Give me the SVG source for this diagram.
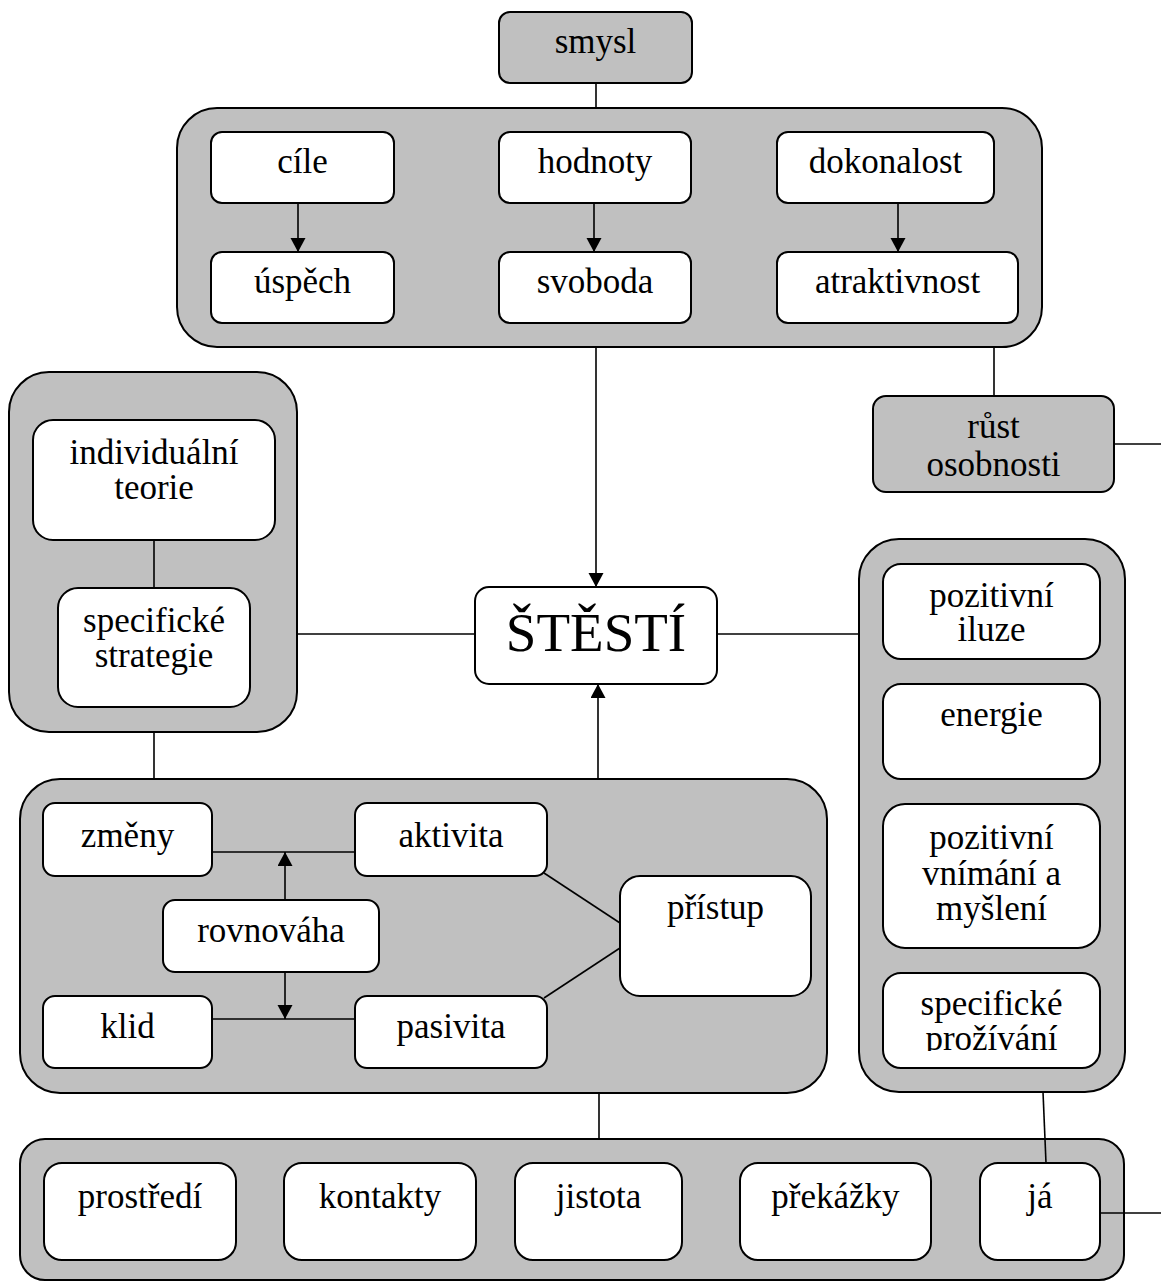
<svg xmlns="http://www.w3.org/2000/svg" width="1161" height="1282" viewBox="0 0 1161 1282">
<style>
.grp{fill:#c0c0c0;stroke:#000;stroke-width:2}
.box{fill:#fff;stroke:#000;stroke-width:2}
.gbox{fill:#c0c0c0;stroke:#000;stroke-width:2}
text{font-family:"Liberation Serif","Times New Roman",serif;font-size:35px;fill:#000;text-anchor:middle}
.big{font-size:55px}
.ln{stroke:#000;stroke-width:1.6;fill:none}
</style>
<defs>
<marker id="ah" markerUnits="userSpaceOnUse" markerWidth="15" markerHeight="16" refX="14" refY="7.5" orient="auto">
<path d="M0,0 L14,7.5 L0,15 z" fill="#000"/>
</marker>
<clipPath id="clipPro"><rect x="883" y="973" width="217" height="78"/></clipPath>
</defs>
<rect width="1161" height="1282" fill="#fff"/>

<g id="containers">
<rect id="top-group" class="grp" x="177" y="108" width="865" height="239" rx="40"/>
<rect id="left-group" class="grp" x="9" y="372" width="288" height="360" rx="40"/>
<rect id="right-group" class="grp" x="859" y="539" width="266" height="553" rx="40"/>
<rect id="middle-group" class="grp" x="20" y="779" width="807" height="314" rx="40"/>
<rect id="bottom-group" class="grp" x="20" y="1139" width="1104" height="141" rx="25"/>
</g>

<g id="connectors">
<line class="ln" x1="596" y1="83" x2="596" y2="108"/>
<line class="ln" x1="596" y1="347" x2="596" y2="587" marker-end="url(#ah)"/>
<line class="ln" x1="994" y1="347" x2="994" y2="396"/>
<line class="ln" x1="1114" y1="444" x2="1161" y2="444"/>
<line class="ln" x1="297" y1="634" x2="475" y2="634"/>
<line class="ln" x1="717" y1="634" x2="859" y2="634"/>
<line class="ln" x1="154" y1="540" x2="154" y2="588"/>
<line class="ln" x1="154" y1="732" x2="154" y2="779"/>
<line class="ln" x1="598" y1="779" x2="598" y2="684" marker-end="url(#ah)"/>
<line class="ln" x1="212" y1="852" x2="355" y2="852"/>
<line class="ln" x1="285" y1="900" x2="285" y2="852" marker-end="url(#ah)"/>
<line class="ln" x1="212" y1="1019" x2="355" y2="1019"/>
<line class="ln" x1="285" y1="972" x2="285" y2="1019" marker-end="url(#ah)"/>
<line class="ln" x1="544" y1="873" x2="620" y2="923"/>
<line class="ln" x1="544" y1="998" x2="620" y2="948"/>
<line class="ln" x1="599" y1="1093" x2="599" y2="1139"/>
<line class="ln" x1="1043" y1="1092" x2="1046" y2="1163"/>
<line class="ln" x1="1100" y1="1213" x2="1161" y2="1213"/>
<line class="ln" x1="298" y1="203" x2="298" y2="252" marker-end="url(#ah)"/>
<line class="ln" x1="594" y1="203" x2="594" y2="252" marker-end="url(#ah)"/>
<line class="ln" x1="898" y1="203" x2="898" y2="252" marker-end="url(#ah)"/>
</g>

<g id="smysl"><rect class="gbox" x="499" y="12" width="193" height="71" rx="11"/><text x="595.5" y="53">smysl</text></g>
<g id="cile"><rect class="box" x="211" y="132" width="183" height="71" rx="11"/><text x="302.5" y="173">cíle</text></g>
<g id="uspech"><rect class="box" x="211" y="252" width="183" height="71" rx="11"/><text x="302.5" y="293">úspěch</text></g>
<g id="hodnoty"><rect class="box" x="499" y="132" width="192" height="71" rx="11"/><text x="595" y="173">hodnoty</text></g>
<g id="svoboda"><rect class="box" x="499" y="252" width="192" height="71" rx="11"/><text x="595" y="293">svoboda</text></g>
<g id="dokonalost"><rect class="box" x="777" y="132" width="217" height="71" rx="11"/><text x="885.5" y="173">dokonalost</text></g>
<g id="atraktivnost"><rect class="box" x="777" y="252" width="241" height="71" rx="11"/><text x="897.5" y="293">atraktivnost</text></g>
<g id="rust"><rect class="gbox" x="873" y="396" width="241" height="96" rx="13"/><text x="993.5" y="438">růst</text><text x="993.5" y="476">osobnosti</text></g>

<g id="individualni"><rect class="box" x="33" y="420" width="242" height="120" rx="20"/><text x="154" y="464">individuální</text><text x="154" y="499">teorie</text></g>
<g id="strategie"><rect class="box" x="58" y="588" width="192" height="119" rx="20"/><text x="154" y="632">specifické</text><text x="154" y="667">strategie</text></g>

<g id="stesti"><rect class="box" x="475" y="587" width="242" height="97" rx="14"/><text class="big" x="596" y="651">ŠTĚSTÍ</text></g>

<g id="iluze"><rect class="box" x="883" y="564" width="217" height="95" rx="18"/><text x="991.5" y="607">pozitivní</text><text x="991.5" y="641">iluze</text></g>
<g id="energie"><rect class="box" x="883" y="684" width="217" height="95" rx="18"/><text x="991.5" y="726">energie</text></g>
<g id="vnimani"><rect class="box" x="883" y="804" width="217" height="144" rx="22"/><text x="991.5" y="849">pozitivní</text><text x="991.5" y="885">vnímání a</text><text x="991.5" y="920">myšlení</text></g>
<g id="prozivani"><rect class="box" x="883" y="973" width="217" height="95" rx="18"/><text x="991.5" y="1015">specifické</text><text x="991.5" y="1050" clip-path="url(#clipPro)">prožívání</text></g>

<g id="zmeny"><rect class="box" x="43" y="803" width="169" height="73" rx="12"/><text x="127.5" y="847">změny</text></g>
<g id="aktivita"><rect class="box" x="355" y="803" width="192" height="73" rx="12"/><text x="451" y="847">aktivita</text></g>
<g id="rovnovaha"><rect class="box" x="163" y="900" width="216" height="72" rx="12"/><text x="271" y="942">rovnováha</text></g>
<g id="klid"><rect class="box" x="43" y="996" width="169" height="72" rx="12"/><text x="127.5" y="1038">klid</text></g>
<g id="pasivita"><rect class="box" x="355" y="996" width="192" height="72" rx="12"/><text x="451" y="1038">pasivita</text></g>
<g id="pristup"><rect class="box" x="620" y="876" width="191" height="120" rx="20"/><text x="715.5" y="919">přístup</text></g>

<g id="prostredi"><rect class="box" x="44" y="1163" width="192" height="97" rx="18"/><text x="140" y="1208">prostředí</text></g>
<g id="kontakty"><rect class="box" x="284" y="1163" width="192" height="97" rx="18"/><text x="380" y="1208">kontakty</text></g>
<g id="jistota"><rect class="box" x="515" y="1163" width="167" height="97" rx="18"/><text x="598.5" y="1208">jistota</text></g>
<g id="prekazky"><rect class="box" x="740" y="1163" width="191" height="97" rx="18"/><text x="835.5" y="1208">překážky</text></g>
<g id="ja"><rect class="box" x="980" y="1163" width="120" height="97" rx="18"/><text x="1040" y="1208">já</text></g>
</svg>
